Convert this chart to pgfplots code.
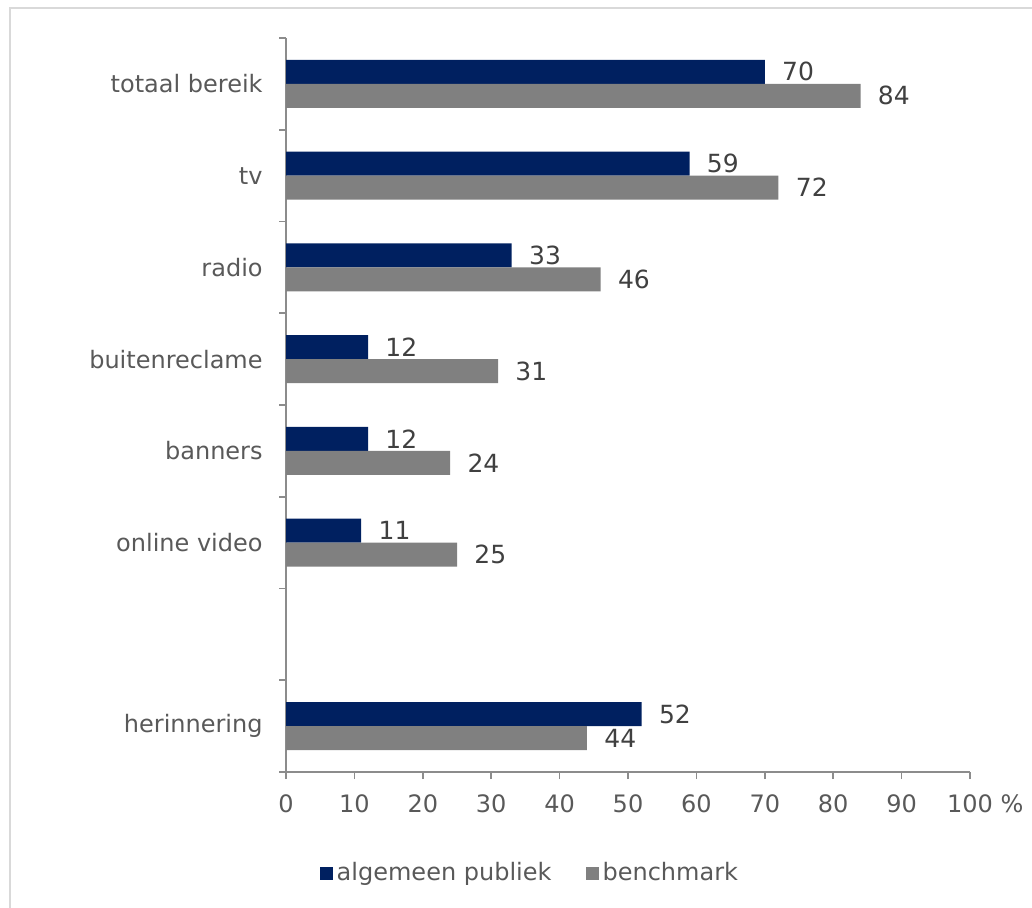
\documentclass[border=0pt]{standalone}
\usepackage{fontspec}
\setmainfont{DejaVu Sans}
\usepackage{pgfplots}
\pgfplotsset{compat=1.18}
\definecolor{navy}{HTML}{002060}
\definecolor{bgray}{HTML}{808080}
\definecolor{txt}{HTML}{595959}
\definecolor{lbl}{HTML}{404040}
\definecolor{axgray}{HTML}{8C8C8C}
\definecolor{frame}{HTML}{D9D9D9}
\begin{document}
\begin{tikzpicture}
\path[use as bounding box] (0,0) rectangle (516pt,-454pt);
\draw[frame, line width=1pt] (4.75pt,-454pt) -- (4.75pt,-4pt) -- (516pt,-4pt);
\begin{axis}[
  at={(143pt,-386pt)}, anchor=south west,
  scale only axis, width=342pt, height=367pt,
  xmin=0, xmax=100, ymin=-0.5, ymax=7.5,
  xbar, bar width=12pt,
  /pgf/number format/assume math mode=true,
  axis x line*=bottom, axis y line*=left,
  axis line style={axgray, line width=0.8pt},
  every tick/.style={axgray, line width=0.8pt},
  tick align=outside,
  major tick length=3.5pt, minor tick length=3.5pt,
  xtick={0,10,...,100},
  xticklabels={0,10,20,30,40,50,60,70,80,90,100\rlap{ \%}},
  ytick={0,...,7},
  yticklabels={herinnering,,online video,banners,buitenreclame,radio,tv,totaal bereik},
  major y tick style={draw=none},
  minor ytick={-0.5,0.5,...,7.5},
  xtick pos=bottom, ytick pos=left,
  tick label style={font=\fontsize{12}{14.4}\selectfont, text=txt},
  yticklabel style={inner sep=0pt},
  xticklabel style={inner sep=0pt},
  yticklabel shift=8pt,
  xticklabel shift=7.6pt,
  nodes near coords={\pgfmathprintnumber[assume math mode=true]{\pgfplotspointmeta}},
  every node near coord/.append style={anchor=west, inner sep=0pt, xshift=8.5pt, font=\fontsize{12.5}{15}\selectfont, text=lbl},
  legend columns=2,
  legend style={at={(0.358,-0.1376)}, anchor=center, draw=none, fill=none,
    font=\fontsize{12}{14.4}\selectfont, text=txt,
    /tikz/every even column/.append style={column sep=15pt}},
  legend image code/.code={\fill[#1] (0pt,-3.25pt) rectangle (6.5pt,3.25pt);},
  clip=false,
]
\addplot[fill=navy, draw=none, bar shift=6pt] coordinates {
  (70,7) (59,6) (33,5) (12,4) (12,3) (11,2) (52,0)
};
\addplot[fill=bgray, draw=none, bar shift=-6pt] coordinates {
  (84,7) (72,6) (46,5) (31,4) (24,3) (25,2) (44,0)
};
\legend{algemeen publiek, benchmark}
\end{axis}
\end{tikzpicture}
\end{document}
